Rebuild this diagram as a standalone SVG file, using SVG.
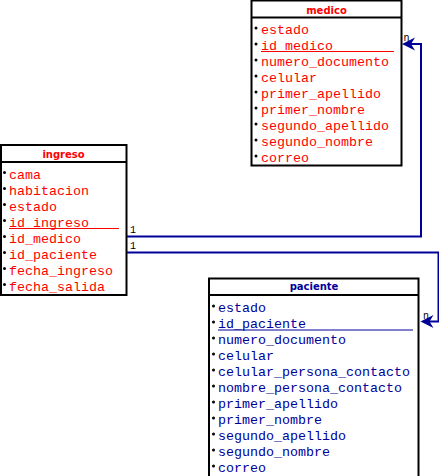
<svg xmlns="http://www.w3.org/2000/svg" width="439" height="476" viewBox="0 0 439 476">
<style>
.box{fill:#fff;stroke:#000;stroke-width:2}
.sep{stroke:#000;stroke-width:2}
.title{font-family:"DejaVu Sans",sans-serif;font-weight:bold;font-size:10px;text-anchor:middle}
.attr{font-family:"Liberation Mono",monospace;font-size:13.33px}
.red{fill:#ff0000}
.blue{fill:#000099}
.dot{fill:#000}
.ul-red{stroke:#ff0000;stroke-width:1}
.ul-blue{stroke:#000099;stroke-width:1}
.conn{fill:none;stroke:#000099;stroke-width:2}
.head{fill:#000099}
.lbl{font-family:"Liberation Mono",monospace;font-size:10px;fill:#000}
</style>
<rect width="439" height="476" fill="#fff"/>
<g id="medico">
<rect class="box" x="251.5" y="0.5" width="150" height="165"/>
<line class="sep" x1="251.5" y1="17.5" x2="401.5" y2="17.5"/>
<text class="title red" x="326.5" y="14">medico</text>
<g class="dot">
<circle cx="256" cy="28" r="1.5"/><circle cx="256" cy="44" r="1.5"/><circle cx="256" cy="60" r="1.5"/><circle cx="256" cy="76" r="1.5"/><circle cx="256" cy="92" r="1.5"/><circle cx="256" cy="108" r="1.5"/><circle cx="256" cy="124" r="1.5"/><circle cx="256" cy="140" r="1.5"/><circle cx="256" cy="156" r="1.5"/>
</g>
<text class="attr red" x="261" y="34">estado</text>
<text class="attr red" x="261" y="50">id_medico</text>
<text class="attr red" x="261" y="66">numero_documento</text>
<text class="attr red" x="261" y="82">celular</text>
<text class="attr red" x="261" y="98">primer_apellido</text>
<text class="attr red" x="261" y="114">primer_nombre</text>
<text class="attr red" x="261" y="130">segundo_apellido</text>
<text class="attr red" x="261" y="146">segundo_nombre</text>
<text class="attr red" x="261" y="162">correo</text>
<line class="ul-red" x1="261" y1="51.5" x2="394" y2="51.5"/>
</g>
<g id="ingreso">
<rect class="box" x="1" y="145" width="125.5" height="150"/>
<line class="sep" x1="1" y1="162" x2="126.5" y2="162"/>
<text class="title red" x="63.5" y="157.5">ingreso</text>
<g class="dot">
<circle cx="4.5" cy="172.5" r="1.5"/><circle cx="4.5" cy="188.5" r="1.5"/><circle cx="4.5" cy="204.5" r="1.5"/><circle cx="4.5" cy="220.5" r="1.5"/><circle cx="4.5" cy="236.5" r="1.5"/><circle cx="4.5" cy="252.5" r="1.5"/><circle cx="4.5" cy="268.5" r="1.5"/><circle cx="4.5" cy="284.5" r="1.5"/>
</g>
<text class="attr red" x="9" y="178.5">cama</text>
<text class="attr red" x="9" y="194.5">habitacion</text>
<text class="attr red" x="9" y="210.5">estado</text>
<text class="attr red" x="9" y="226.5">id_ingreso</text>
<text class="attr red" x="9" y="242.5">id_medico</text>
<text class="attr red" x="9" y="258.5">id_paciente</text>
<text class="attr red" x="9" y="274.5">fecha_ingreso</text>
<text class="attr red" x="9" y="290.5">fecha_salida</text>
<line class="ul-red" x1="9" y1="228.5" x2="119" y2="228.5"/>
</g>
<g id="paciente">
<rect class="box" x="209" y="278.5" width="209.5" height="200"/>
<line class="sep" x1="209" y1="295" x2="418.5" y2="295"/>
<text class="title blue" x="314" y="290">paciente</text>
<g class="dot">
<circle cx="213.5" cy="306" r="1.5"/><circle cx="213.5" cy="322" r="1.5"/><circle cx="213.5" cy="338" r="1.5"/><circle cx="213.5" cy="354" r="1.5"/><circle cx="213.5" cy="370" r="1.5"/><circle cx="213.5" cy="386" r="1.5"/><circle cx="213.5" cy="402" r="1.5"/><circle cx="213.5" cy="418" r="1.5"/><circle cx="213.5" cy="434" r="1.5"/><circle cx="213.5" cy="450" r="1.5"/><circle cx="213.5" cy="466" r="1.5"/>
</g>
<text class="attr blue" x="218" y="312">estado</text>
<text class="attr blue" x="218" y="328">id_paciente</text>
<text class="attr blue" x="218" y="344">numero_documento</text>
<text class="attr blue" x="218" y="360">celular</text>
<text class="attr blue" x="218" y="376">celular_persona_contacto</text>
<text class="attr blue" x="218" y="392">nombre_persona_contacto</text>
<text class="attr blue" x="218" y="408">primer_apellido</text>
<text class="attr blue" x="218" y="424">primer_nombre</text>
<text class="attr blue" x="218" y="440">segundo_apellido</text>
<text class="attr blue" x="218" y="456">segundo_nombre</text>
<text class="attr blue" x="218" y="472">correo</text>
<line class="ul-blue" x1="218" y1="330" x2="413" y2="330"/>
</g>
<g id="connectors">
<path class="conn" d="M127,236.5 H421 V44 H408"/>
<path class="head" d="M402,44 L415,37.5 L411,44 L415,50.5 Z"/>
<text class="lbl" x="130" y="232.5">1</text>
<text class="lbl" x="403.5" y="41">n</text>
<path class="conn" d="M127,252.5 H438.5 V321.5 H427"/>
<path class="head" d="M420.5,321.5 L433.5,315 L429.5,321.5 L433.5,328 Z"/>
<text class="lbl" x="130" y="249">1</text>
<text class="lbl" x="423" y="319">n</text>
</g>
</svg>
